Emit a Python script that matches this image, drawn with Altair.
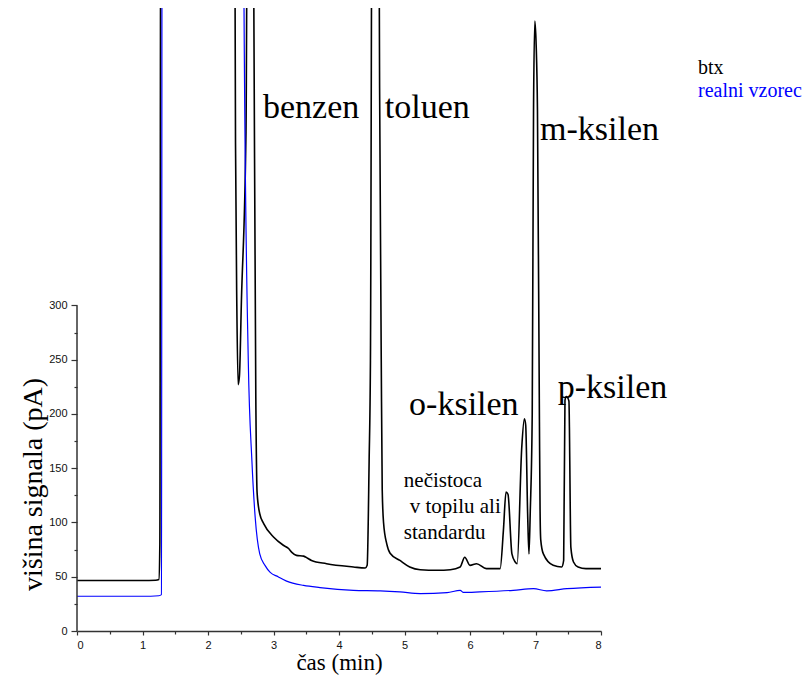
import altair as alt
import pandas as pd

# ---- data ----
btx_t = [0.00, 0.50, 1.00, 1.20, 1.25, 1.265, 1.28, 2.40, 2.42, 2.44,
         2.46, 2.48, 2.51, 2.58, 2.61, 2.68, 2.70, 2.73, 2.75, 2.79,
         2.85, 3.00, 3.15, 3.23, 3.28, 3.35, 3.46, 3.52, 3.58, 3.81,
         4.22, 4.40, 4.43, 4.46, 4.48, 4.51, 4.60, 4.62, 4.645, 4.66,
         4.68, 4.73, 4.78, 4.93, 5.08, 5.24, 5.50, 5.70, 5.85, 5.92,
         6.00, 6.10, 6.25, 6.46, 6.51, 6.55, 6.58, 6.64, 6.69, 6.72,
         6.79, 6.83, 6.85, 6.88, 6.90, 6.92, 6.95, 6.97, 6.99, 7.01,
         7.03, 7.06, 7.07, 7.08, 7.12, 7.27, 7.40, 7.43, 7.45, 7.47,
         7.51, 7.54, 7.58, 7.65, 7.77, 8.00]
btx_y = [46.5, 46.5, 46.5, 46.8, 47.5, 80, 800, 800, 450, 300,
         227, 235, 304, 460, 800, 800, 574, 215, 127, 108,
         99, 86.6, 79, 76, 72.5, 69.7, 69, 67, 65, 62,
         59, 58, 60.5, 157, 249, 800, 800, 500, 250, 130,
         100, 80, 71.6, 65, 59, 56.5, 56, 56.5, 59, 68,
         60.5, 62, 57.5, 57.5, 92.7, 128, 126, 71, 63.6, 62,
         169, 195.6, 190, 108, 71, 110, 200, 480, 562, 540,
         480, 194, 110, 84, 71, 60.5, 59, 65, 212.5, 216,
         212, 77, 63.6, 59, 57.5, 57.5]

vz_t = [0.00, 1.00, 1.25, 1.29, 1.30, 2.54, 2.55, 2.615, 2.67, 2.72,
        2.79, 2.87, 2.95, 3.07, 3.20, 3.46, 3.71, 4.22, 4.63, 4.93,
        5.24, 5.65, 5.85, 5.90, 6.15, 6.66, 6.97, 7.17, 7.48, 8.00]
vz_y = [32, 32, 32.5, 33.5, 800, 800, 574, 249, 157, 105,
        71, 60.5, 54, 50, 46, 42, 40, 37.5, 37, 36,
        34.5, 35.3, 37.5, 35.5, 36, 37.5, 39, 37, 39, 40.5]

peak_names = ["benzen", "toluen", "m-ksilen", "o-ksilen", "p-ksilen"]
peak_x = [2.84, 4.70, 7.07, 5.07, 7.34]
peak_y = [473, 473, 452, 198.6, 215]

note_lines = ["nečistoca", "v topilu ali", "standardu"]
note_x = [4.99, 5.08, 4.99]
note_y = [132.3, 108.4, 84.4]

legend_names = ["btx", "realni vzorec"]
legend_colors = ["#000000", "#0000ff"]

x_major = [0, 1, 2, 3, 4, 5, 6, 7, 8]
x_minor = [0.5, 1.5, 2.5, 3.5, 4.5, 5.5, 6.5, 7.5]
y_major = [0, 50, 100, 150, 200, 250, 300]
y_minor = [25, 75, 125, 175, 225, 275]

YMAX = 574
SERIF = "'Liberation Serif', 'Times New Roman', Times, 'DejaVu Serif', serif"
SANS = "'Liberation Sans', Arial, Helvetica, sans-serif"
AXC = "#333333"

df_btx = pd.DataFrame({"t": btx_t, "v": btx_y})
df_vz = pd.DataFrame({"t": vz_t, "v": vz_y})
df_peaks = pd.DataFrame({"t": peak_x, "v": peak_y, "label": peak_names})
df_note = pd.DataFrame({"t": note_x, "v": note_y, "label": note_lines})

xscale = alt.Scale(domain=[0, 8], nice=False, zero=False)
yscale = alt.Scale(domain=[0, YMAX], nice=False, zero=False)

x_main = alt.X("t:Q", scale=xscale, axis=alt.Axis(
    values=x_major, format="d", title="čas (min)", grid=False,
    tickSize=4, tickColor=AXC, tickWidth=1.2, domainColor=AXC, domainWidth=1.5,
    labelFont=SANS, labelFontSize=11, labelColor="#111111", labelPadding=4,
    titleFont=SERIF, titleFontSize=23, titleFontWeight="normal", titleColor="#000000",
    titleBaseline="alphabetic", titleY=38, orient="bottom"))
y_main = alt.Y("v:Q", scale=yscale, axis=alt.Axis(
    values=y_major, format="d", title="višina signala (pA)", grid=False, domain=False,
    tickSize=6, tickColor=AXC, tickWidth=1.2,
    labelFont=SANS, labelFontSize=11, labelColor="#111111", labelPadding=4,
    titleFont=SERIF, titleFontSize=28, titleFontWeight="normal", titleColor="#000000",
    titleX=-44, titleY=476, titleBaseline="middle", titleAngle=270, orient="left"))

black = alt.Chart(df_btx).mark_line(color="#000000", strokeWidth=1.6, clip=True,
                                    interpolate="monotone").encode(x=x_main, y=y_main)

x_min = alt.X("t:Q", scale=xscale, axis=alt.Axis(
    values=x_minor, labels=False, title=None, grid=False, domain=False,
    tickSize=3, tickColor=AXC, tickWidth=1.2, orient="bottom"))
y_min = alt.Y("v:Q", scale=yscale, axis=alt.Axis(
    values=y_minor, labels=False, title=None, grid=False, domain=False,
    tickSize=3, tickColor=AXC, tickWidth=1.2, orient="left"))

blue = alt.Chart(df_vz).mark_line(color="#0000ff", strokeWidth=1.2, clip=True,
                                  interpolate="monotone").encode(x=x_min, y=y_min)

x_none = alt.X("t:Q", scale=xscale, axis=None)
y_none = alt.Y("v:Q", scale=yscale, axis=None)

yaxis_line = alt.Chart(pd.DataFrame({"t": [0, 0], "v": [0, 300]})).mark_line(
    color=AXC, strokeWidth=1.5).encode(x=x_none, y=y_none)

peaks = alt.Chart(df_peaks).mark_text(
    font=SERIF, fontSize=34, align="left", baseline="alphabetic", color="#000000"
).encode(x=x_none, y=y_none, text="label:N")

note = alt.Chart(df_note).mark_text(
    font=SERIF, fontSize=21, align="left", baseline="alphabetic", color="#000000"
).encode(x=x_none, y=y_none, text="label:N")

leg1 = alt.Chart(pd.DataFrame({"label": [legend_names[0]]})).mark_text(
    font=SERIF, fontSize=20, align="left", baseline="alphabetic", color=legend_colors[0]
).encode(x=alt.value(621), y=alt.value(66), text="label:N")
leg2 = alt.Chart(pd.DataFrame({"label": [legend_names[1]]})).mark_text(
    font=SERIF, fontSize=20, align="left", baseline="alphabetic", color=legend_colors[1]
).encode(x=alt.value(621), y=alt.value(89), text="label:N")

chart = alt.layer(black, blue, yaxis_line, peaks, note, leg1, leg2).resolve_axis(
    x="independent", y="independent"
).properties(
    width=524, height=623,
    padding={"left": 69, "top": 0, "right": 202, "bottom": 54},
    autosize=alt.AutoSizeParams(type="none"),
    background="#ffffff",
).configure_view(stroke=None)

chart.save("out.html", embed_options={"renderer": "svg", "actions": False})
